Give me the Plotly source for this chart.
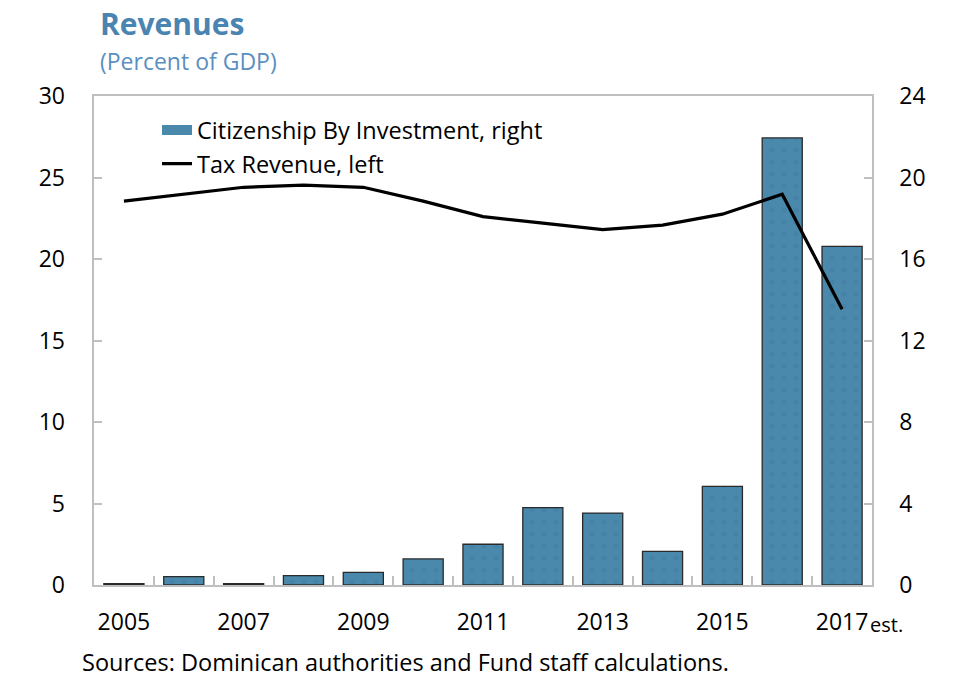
import plotly.graph_objects as go

years = list(range(2005, 2018))
cbi_revenue = [0.07, 0.41, 0.07, 0.46, 0.62, 1.28, 2.0, 3.80, 3.53, 1.65, 4.84, 21.94, 16.62]
tax_revenue = [23.55, 23.98, 24.4, 24.53, 24.4, 23.55, 22.6, 22.2, 21.8, 22.08, 22.75, 23.97, 16.92]
tick_years = [2005, 2007, 2009, 2011, 2013, 2015, 2017]
tick_labels = ["2005", "2007", "2009", "2011", "2013", "2015", "2017"]
boundaries = [y + 0.5 for y in range(2005, 2017)]

FONT = "Open Sans"
GRAY = "#BFBFBF"
BAR_BLUE = "#4A89AB"

fig = go.Figure()
fig.add_trace(go.Bar(
    x=years, y=cbi_revenue, name="Citizenship By Investment, right",
    width=0.67, yaxis="y", showlegend=False,
    marker=dict(color=BAR_BLUE, line=dict(color="#2a2a2a", width=1.3),
                pattern=dict(shape=".", fgcolor="#3F7CA3", size=12, solidity=0.15)),
))
# legend-only entry for the bars (wide rectangle swatch)
fig.add_trace(go.Scatter(
    x=[None], y=[None], name="Citizenship By Investment, right", mode="lines",
    yaxis="y", line=dict(color=BAR_BLUE, width=17),
))
fig.add_trace(go.Scatter(
    x=years, y=tax_revenue, name="Tax Revenue, left", mode="lines",
    yaxis="y2", line=dict(color="black", width=3.2),
))

fig.update_layout(
    width=958, height=694,
    margin=dict(l=94, r=86, t=96, b=109, autoexpand=False),
    paper_bgcolor="white", plot_bgcolor="white",
    font=dict(family=FONT, size=23, color="black"),
    showlegend=True,
    legend=dict(x=0.081, y=0.975, xanchor="left", yanchor="top",
                bgcolor="rgba(0,0,0,0)", font=dict(size=23.5), tracegroupgap=0,
                itemwidth=30),
    xaxis=dict(range=[2004.5, 2017.5], tickvals=tick_years, ticktext=tick_labels,
               ticks="", showgrid=False, zeroline=False,
               showline=True, linecolor=GRAY, linewidth=1.5, mirror=True,
               tickfont=dict(size=23), ticklabelstandoff=16,
               minor=dict(tickvals=boundaries, ticks="inside", ticklen=9,
                          tickcolor=GRAY, tickwidth=1.5, showgrid=False)),
    yaxis=dict(range=[0, 24], dtick=4, side="right", showgrid=False, zeroline=False,
               showline=True, linecolor=GRAY, linewidth=1.5, mirror=True,
               ticks="inside", ticklen=8, tickcolor=GRAY, tickwidth=1.5,
               tickfont=dict(size=23), ticklabelstandoff=21),
    yaxis2=dict(range=[0, 30], dtick=5, side="left", overlaying="y",
                showgrid=False, zeroline=False, showline=False,
                ticks="inside", ticklen=8, tickcolor=GRAY, tickwidth=1.5,
                tickfont=dict(size=23), ticklabelstandoff=28),
)

fig.add_annotation(text="<b>Revenues</b>", xref="paper", yref="paper", x=0, y=1,
                   xanchor="left", yanchor="bottom", xshift=4, yshift=50,
                   showarrow=False, font=dict(size=30, color="#4A84B0", family=FONT))
fig.add_annotation(text="(Percent of GDP)", xref="paper", yref="paper", x=0, y=1,
                   xanchor="left", yanchor="bottom", xshift=4, yshift=17,
                   showarrow=False, font=dict(size=23, color="#5A8FC0", family=FONT))
fig.add_annotation(text="est.", xref="x", yref="paper", x=2017, y=0,
                   xanchor="left", yanchor="middle", xshift=26, yshift=-39,
                   showarrow=False, font=dict(size=20, color="black", family=FONT))
fig.add_annotation(text="Sources: Dominican authorities and Fund staff calculations.",
                   xref="paper", yref="paper", x=0, y=0, xanchor="left", yanchor="middle",
                   xshift=-14, yshift=-77, showarrow=False,
                   font=dict(size=23.5, color="black", family=FONT))

fig.write_html("out.html", config={"displayModeBar": False},
               post_script="document.body.style.margin='0';")
